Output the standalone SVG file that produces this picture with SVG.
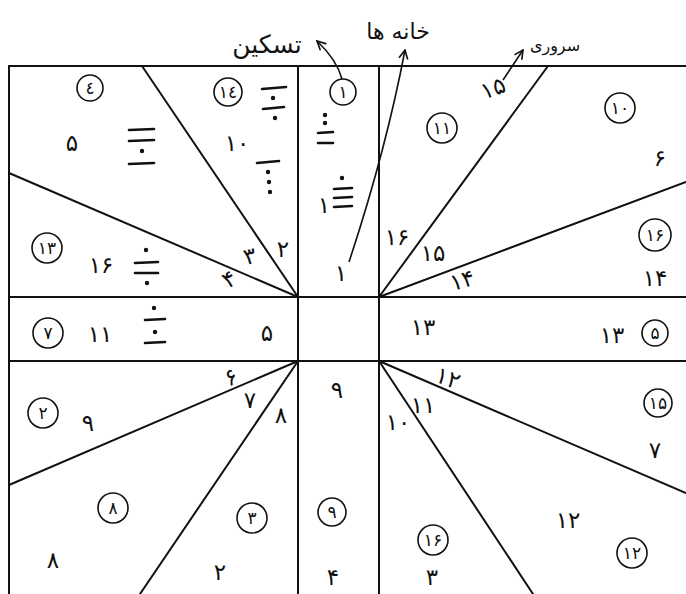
<svg xmlns="http://www.w3.org/2000/svg" width="686" height="594" viewBox="0 0 686 594">
<style>
.ln{stroke:#111;stroke-width:2;fill:none;stroke-linecap:round}
.ring{fill:none;stroke:#111;stroke-width:1.6}
.t{font-family:"DejaVu Sans","Noto Sans",sans-serif;font-size:23px;fill:#111;text-anchor:middle;dominant-baseline:central}
.c{font-family:"DejaVu Sans","Noto Sans",sans-serif;font-size:17px;fill:#111;text-anchor:middle;dominant-baseline:central}
.w{font-family:"DejaVu Sans","Noto Sans",sans-serif;font-size:22px;fill:#111;text-anchor:middle;dominant-baseline:central}
.d{stroke:#111;stroke-width:2.6;stroke-linecap:round}
.p{fill:#111}
.arr{stroke:#111;stroke-width:1.6;fill:none}
</style>
<defs>
<marker id="ah" viewBox="0 0 10 10" refX="9" refY="5" markerWidth="11" markerHeight="11" markerUnits="userSpaceOnUse" orient="auto">
<path d="M1,1 L9,5 L1,9" fill="none" stroke="#111" stroke-width="1.5"/>
</marker>
</defs>
<rect width="686" height="594" fill="#fff"/>

<g id="grid">
<line class="ln" x1="9" y1="66" x2="686" y2="66"/>
<line class="ln" x1="9" y1="66" x2="9" y2="594"/>
<line class="ln" x1="9" y1="297" x2="686" y2="297"/>
<line class="ln" x1="9" y1="361" x2="686" y2="361"/>
<line class="ln" x1="298" y1="66" x2="298" y2="594"/>
<line class="ln" x1="379" y1="66" x2="379" y2="594"/>
<line class="ln" x1="142" y1="66" x2="298" y2="297"/>
<line class="ln" x1="9" y1="173" x2="298" y2="297"/>
<line class="ln" x1="548" y1="66" x2="379" y2="297"/>
<line class="ln" x1="686" y1="182" x2="379" y2="297"/>
<line class="ln" x1="9" y1="485" x2="298" y2="361"/>
<line class="ln" x1="140" y1="594" x2="298" y2="361"/>
<line class="ln" x1="686" y1="493" x2="379" y2="361"/>
<line class="ln" x1="533" y1="594" x2="379" y2="361"/>
</g>

<g id="connectors">
<path class="arr" d="M342,79 Q337,60 317,41" marker-end="url(#ah)"/>
<path class="arr" d="M349,262 Q386,150 405,50" marker-end="url(#ah)"/>
<path class="arr" d="M503,80 L523,50" marker-end="url(#ah)"/>
</g>

<g id="titles">
<text class="w" x="267" y="44" style="font-size:25px">تسکین</text>
<text class="w" x="398" y="31">خانه ها</text>
<text class="w" x="555" y="45" style="font-size:16px">سروری</text>
</g>

<g id="house-4"><circle class="ring" cx="90" cy="88" r="13"/><text class="c" x="90" y="88">٤</text></g>
<g id="house-14"><circle class="ring" cx="228" cy="92" r="14"/><text class="c" x="228" y="92">١٤</text></g>
<g id="house-1"><circle class="ring" cx="343" cy="92" r="13"/><text class="c" x="343" y="92">۱</text></g>
<g id="house-11"><circle class="ring" cx="442" cy="128" r="15"/><text class="c" x="442" y="128">۱۱</text></g>
<g id="house-10"><circle class="ring" cx="620" cy="108" r="15"/><text class="c" x="620" y="108">۱۰</text></g>
<g id="house-13"><circle class="ring" cx="47" cy="248" r="15"/><text class="c" x="47" y="248">۱۳</text></g>
<g id="house-16a"><circle class="ring" cx="655" cy="235" r="16"/><text class="c" x="655" y="235">۱۶</text></g>
<g id="house-7"><circle class="ring" cx="48" cy="333" r="15"/><text class="c" x="48" y="333">۷</text></g>
<g id="house-5"><circle class="ring" cx="655" cy="333" r="13"/><text class="c" x="655" y="333">۵</text></g>
<g id="house-2"><circle class="ring" cx="43" cy="413" r="15"/><text class="c" x="43" y="413">۲</text></g>
<g id="house-15"><circle class="ring" cx="658" cy="403" r="14"/><text class="c" x="658" y="403">۱۵</text></g>
<g id="house-8"><circle class="ring" cx="113" cy="508" r="15"/><text class="c" x="113" y="508">۸</text></g>
<g id="house-3"><circle class="ring" cx="252" cy="518" r="15"/><text class="c" x="252" y="518">۳</text></g>
<g id="house-9"><circle class="ring" cx="332" cy="512" r="14"/><text class="c" x="332" y="512">۹</text></g>
<g id="house-16b"><circle class="ring" cx="433" cy="540" r="15"/><text class="c" x="433" y="540">۱۶</text></g>
<g id="house-12"><circle class="ring" cx="632" cy="553" r="15"/><text class="c" x="632" y="553">۱۲</text></g>

<g id="numbers">
<text class="t" x="72" y="143">۵</text>
<text class="t" x="237" y="143">۱۰</text>
<text class="t" x="101" y="265">۱۶</text>
<text class="t" x="250" y="256" transform="rotate(-15 250 256)">۳</text>
<text class="t" x="283" y="249">۲</text>
<text class="t" x="229" y="279" transform="rotate(-30 229 279)">۴</text>
<text class="t" x="324" y="205">۱</text>
<text class="t" x="341" y="273">۱</text>
<text class="t" x="493" y="88" transform="rotate(-20 493 88)">۱۵</text>
<text class="t" x="660" y="158">۶</text>
<text class="t" x="397" y="237">۱۶</text>
<text class="t" x="433" y="253">۱۵</text>
<text class="t" x="462" y="280" transform="rotate(-15 462 280)">۱۴</text>
<text class="t" x="655" y="278">۱۴</text>
<text class="t" x="100" y="334">۱۱</text>
<text class="t" x="267" y="333">۵</text>
<text class="t" x="423" y="327">۱۳</text>
<text class="t" x="612" y="335">۱۳</text>
<text class="t" x="231" y="377" transform="rotate(-25 231 377)">۶</text>
<text class="t" x="250" y="400">۷</text>
<text class="t" x="281" y="415">۸</text>
<text class="t" x="88" y="423">۹</text>
<text class="t" x="337" y="390">۹</text>
<text class="t" x="448" y="378" transform="rotate(20 448 378)">۱۲</text>
<text class="t" x="423" y="405">۱۱</text>
<text class="t" x="398" y="422">۱۰</text>
<text class="t" x="655" y="450">۷</text>
<text class="t" x="53" y="560">۸</text>
<text class="t" x="220" y="572">۲</text>
<text class="t" x="333" y="577">۴</text>
<text class="t" x="568" y="520">۱۲</text>
<text class="t" x="432" y="577">۳</text>
</g>

<g id="figures">
<g id="fig-a"><line class="d" x1="129" y1="130" x2="154" y2="129"/><line class="d" x1="129" y1="141" x2="154" y2="140"/><circle class="p" cx="142" cy="151" r="2.2"/><line class="d" x1="129" y1="164" x2="154" y2="163"/></g>
<g id="fig-b"><line class="d" x1="262" y1="89" x2="286" y2="87"/><circle class="p" cx="273" cy="98" r="2.2"/><line class="d" x1="263" y1="109" x2="284" y2="107"/><circle class="p" cx="275" cy="118" r="2.2"/></g>
<g id="fig-c"><line class="d" x1="257" y1="163" x2="279" y2="161"/><circle class="p" cx="268" cy="172" r="2.2"/><circle class="p" cx="269" cy="182" r="2.2"/><circle class="p" cx="270" cy="192" r="2.2"/></g>
<g id="fig-d"><circle class="p" cx="325" cy="115" r="2.2"/><circle class="p" cx="325" cy="123" r="2.2"/><line class="d" x1="318" y1="133" x2="333" y2="132"/><line class="d" x1="318" y1="143" x2="333" y2="143"/></g>
<g id="fig-e"><circle class="p" cx="342" cy="178" r="2.2"/><line class="d" x1="334" y1="189" x2="352" y2="188"/><line class="d" x1="334" y1="198" x2="352" y2="197"/><line class="d" x1="334" y1="207" x2="352" y2="206"/></g>
<g id="fig-f"><circle class="p" cx="146" cy="250" r="2.2"/><line class="d" x1="135" y1="263" x2="158" y2="262"/><line class="d" x1="135" y1="273" x2="158" y2="273"/><circle class="p" cx="147" cy="283" r="2.2"/></g>
<g id="fig-g"><circle class="p" cx="154" cy="308" r="2.2"/><line class="d" x1="145" y1="320" x2="165" y2="319"/><circle class="p" cx="155" cy="332" r="2.2"/><line class="d" x1="145" y1="343" x2="165" y2="342"/></g>
</g>
</svg>
